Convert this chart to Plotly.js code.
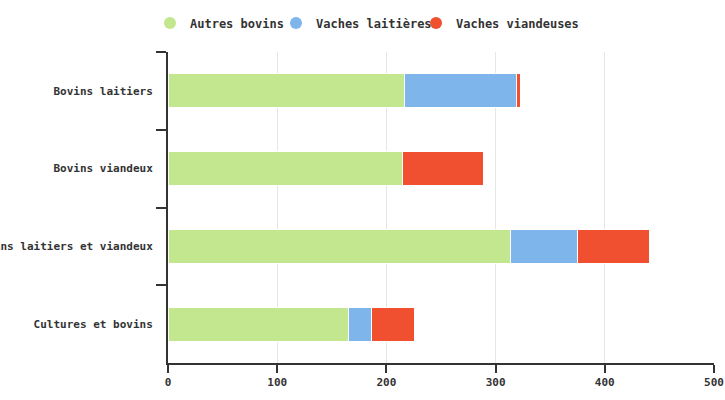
<!DOCTYPE html>
<html>
<head>
<meta charset="utf-8">
<script src="https://cdn.plot.ly/plotly-3.0.1.min.js"></script>
<style>html,body{margin:0;padding:0;background:#fff;}#chart{width:725px;height:400px;}</style>
</head>
<body>
<div id="chart"></div>
<script>
var categories = ["Bovins laitiers", "Bovins viandeux", "Bovins laitiers et viandeux", "Cultures et bovins"];
var seriesNames = ["Autres bovins", "Vaches laitières", "Vaches viandeuses"];
var autresBovins = [217, 215, 314, 165];
var vachesLaitieres = [102, 0, 61, 21];
var vachesViandeuses = [3.5, 74, 66, 40];
var xTicks = [0, 100, 200, 300, 400, 500];
var colors = ["#c2e78f", "#7eb6ec", "#f0502f"];

var seriesValues = [autresBovins, vachesLaitieres, vachesViandeuses];
var legendIds = ["legend", "legend2", "legend3"];
var legendX = [150, 276, 416];
var font = "DejaVu Sans Mono, monospace";
var traces = [];
seriesValues.forEach(function (vals, i) {
  traces.push({
    type: "bar", orientation: "h", name: seriesNames[i],
    y: categories, x: vals,
    marker: {color: colors[i], line: {color: "#ffffff", width: 1}},
    showlegend: false, legendgroup: "g" + i,
    hoverinfo: "x+name"
  });
});
seriesValues.forEach(function (vals, i) {
  traces.push({
    type: "scatter", mode: "markers", name: seriesNames[i],
    x: [null], y: [null],
    marker: {color: colors[i], size: 12, symbol: "circle"},
    showlegend: true, legendgroup: "g" + i, legend: legendIds[i]
  });
});

var layout = {
  width: 725, height: 400,
  margin: {l: 168, r: 11, t: 52, b: 37},
  paper_bgcolor: "#ffffff", plot_bgcolor: "#ffffff",
  barmode: "stack", bargap: 0.56,
  font: {family: font, size: 11, color: "#333333"},
  showlegend: true,
  xaxis: {
    range: [0, 500], tickvals: xTicks, ticktext: xTicks.map(String),
    showgrid: true, gridcolor: "#e6e6e6", gridwidth: 1,
    zeroline: false, showline: true, linecolor: "#333333", linewidth: 2,
    ticks: "outside", ticklen: 8, tickwidth: 2, tickcolor: "#333333",
    tickfont: {family: font, size: 11, color: "#333333", weight: "bold"},
    fixedrange: true
  },
  yaxis: {
    type: "category", categoryorder: "array", categoryarray: categories,
    autorange: "reversed",
    showgrid: false, zeroline: false, showline: true, linecolor: "#333333", linewidth: 2,
    ticks: "outside", tickson: "boundaries", ticklen: 10, tickwidth: 2, tickcolor: "#333333",
    ticklabelstandoff: 11,
    tickfont: {family: font, size: 11, color: "#333333", weight: "bold"},
    fixedrange: true
  }
};
legendIds.forEach(function (id, i) {
  layout[id] = {
    orientation: "h", x: legendX[i] / 725, xanchor: "left",
    y: 1 - 23 / 400, yanchor: "middle",
    xref: "container", yref: "container",
    font: {family: font, size: 12, color: "#333333", weight: "bold"},
    itemwidth: 30, bgcolor: "rgba(0,0,0,0)"
  };
});

Plotly.newPlot("chart", traces, layout, {displayModeBar: false, staticPlot: true});
</script>
</body>
</html>
